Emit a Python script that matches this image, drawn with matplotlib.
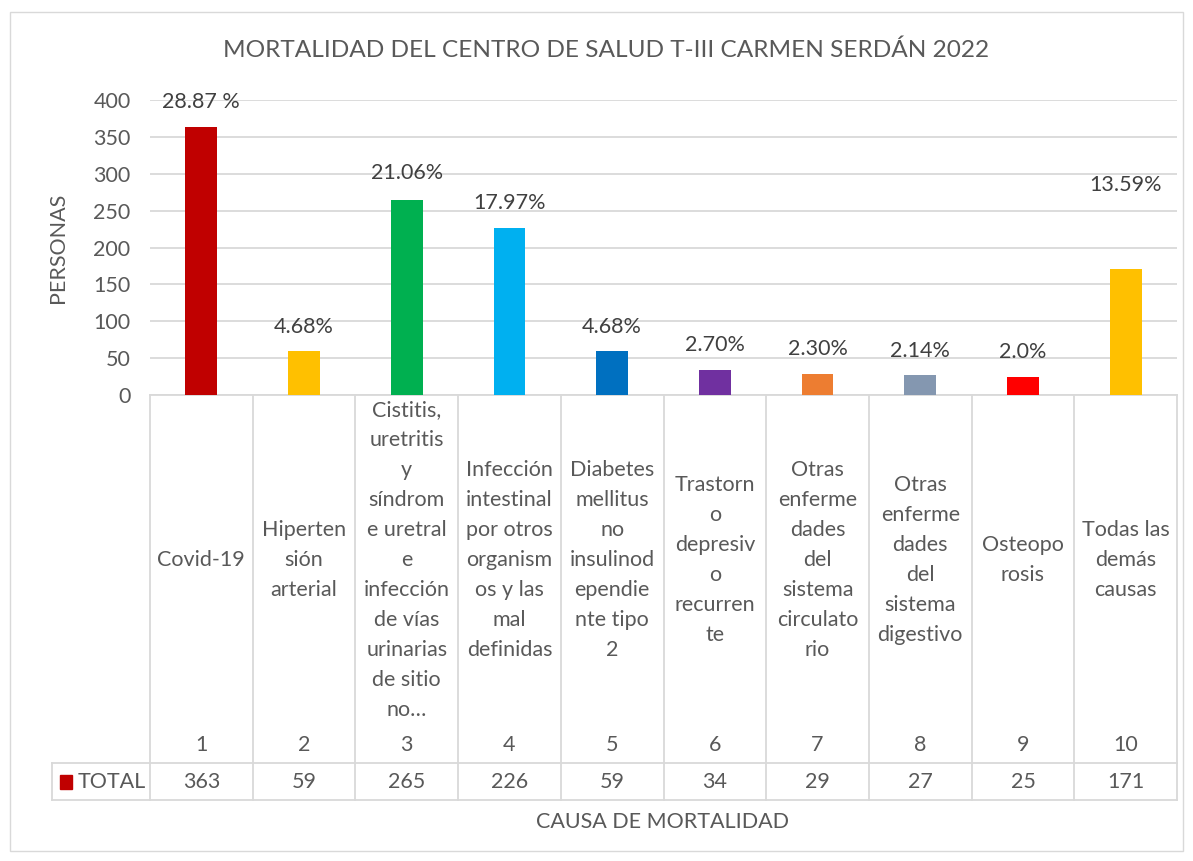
import matplotlib.pyplot as plt
from matplotlib.transforms import blended_transform_factory
from matplotlib.patches import Rectangle

plt.rcParams['font.family'] = ['Lato', 'DejaVu Sans']

# data
causas = [
    "Covid-19",
    "Hiperten\nsión\narterial",
    "Cistitis,\nuretritis\ny\nsíndrom\ne uretral\ne\ninfección\nde vías\nurinarias\nde sitio\nno…",
    "Infección\nintestinal\npor otros\norganism\nos y las\nmal\ndefinidas",
    "Diabetes\nmellitus\nno\ninsulinod\nependie\nnte tipo\n2",
    "Trastorn\no\ndepresiv\no\nrecurren\nte",
    "Otras\nenferme\ndades\ndel\nsistema\ncirculato\nrio",
    "Otras\nenferme\ndades\ndel\nsistema\ndigestivo",
    "Osteopo\nrosis",
    "Todas las\ndemás\ncausas",
]
numeros = [1, 2, 3, 4, 5, 6, 7, 8, 9, 10]
total = [363, 59, 265, 226, 59, 34, 29, 27, 25, 171]
porcentajes = ["28.87 %", "4.68%", "21.06%", "17.97%", "4.68%",
               "2.70%", "2.30%", "2.14%", "2.0%", "13.59%"]
colores = ["#C00000", "#FFC000", "#00B050", "#00B0F0", "#0070C0",
           "#7030A0", "#ED7D31", "#8497B0", "#FF0000", "#FFC000"]

W, H = 1193, 861
def fx(px):
    return px / W
def fy(py):
    return 1 - py / H

txt = '#595959'
grid = '#D9D9D9'
fs = 15.5

fig = plt.figure(figsize=(W / 100, H / 100), dpi=100)
fig.patches.append(Rectangle((fx(10), fy(851)), fx(1183) - fx(10), fy(12) - fy(851),
                             transform=fig.transFigure, fill=False, ec=grid, lw=1))

ax = fig.add_axes([fx(150), fy(395), fx(1177) - fx(150), fy(100) - fy(395)])
ax.bar(numeros, total, width=0.31, color=colores, zorder=3)
ax.set_xlim(0.5, 10.5)
ax.set_ylim(0, 400)
ax.set_yticks(range(0, 401, 50))
ax.tick_params(axis='y', length=0, labelsize=fs, labelcolor=txt, pad=14)
ax.set_xticks([])
ax.grid(axis='y', color=grid, lw=1.3, zorder=0)
for s in ['top', 'right', 'left']:
    ax.spines[s].set_visible(False)
ax.spines['bottom'].set_color(grid)
ax.spines['bottom'].set_linewidth(1.3)

# etiquetas de porcentaje (colocadas a mano como en el original)
label_y = [397, 92, 301, 260, 92, 68, 62, 60, 58, 285]
for x, ly, p in zip(numeros, label_y, porcentajes):
    ax.text(x, ly, p, ha='center', va='center', fontsize=fs, color='#404040')

fig.text(fx(606), fy(50), "MORTALIDAD DEL CENTRO DE SALUD T-III CARMEN SERDÁN 2022",
         ha='center', va='center', fontsize=17.6, color=txt)
fig.text(fx(58), fy(248), "PERSONAS", rotation=90, ha='center', va='center',
         fontsize=fs, color=txt)
fig.text(fx(663), fy(822), "CAUSA DE MORTALIDAD", ha='center', va='center',
         fontsize=fs, color=txt)

# tabla de datos debajo del eje
tr = blended_transform_factory(ax.transData, fig.transFigure)
for x, c, n, v in zip(numeros, causas, numeros, total):
    ax.text(x, fy(560), c, transform=tr, ha='center', va='center',
            fontsize=fs, color=txt, linespacing=1.63, clip_on=False)
    ax.text(x, fy(745), str(n), transform=tr, ha='center', va='center',
            fontsize=fs, color=txt, clip_on=False)
    ax.text(x, fy(782), str(v), transform=tr, ha='center', va='center',
            fontsize=fs, color=txt, clip_on=False)

for xb in [0.5 + i for i in range(11)]:
    ax.plot([xb, xb], [fy(395), fy(800)], transform=tr, color=grid, lw=1.3, clip_on=False)
fig.add_artist(plt.Line2D([fx(52), fx(1177)], [fy(763), fy(763)], color=grid, lw=1.3))
fig.add_artist(plt.Line2D([fx(52), fx(1177)], [fy(800), fy(800)], color=grid, lw=1.3))
fig.add_artist(plt.Line2D([fx(52), fx(52)], [fy(763), fy(800)], color=grid, lw=1.3))
fig.patches.append(Rectangle((fx(60), fy(789)), fx(12), fy(775) - fy(789),
                             transform=fig.transFigure, color="#C00000"))
fig.text(fx(78), fy(782), "TOTAL", ha='left', va='center', fontsize=fs, color=txt)

fig.savefig("out.png", dpi=100)
